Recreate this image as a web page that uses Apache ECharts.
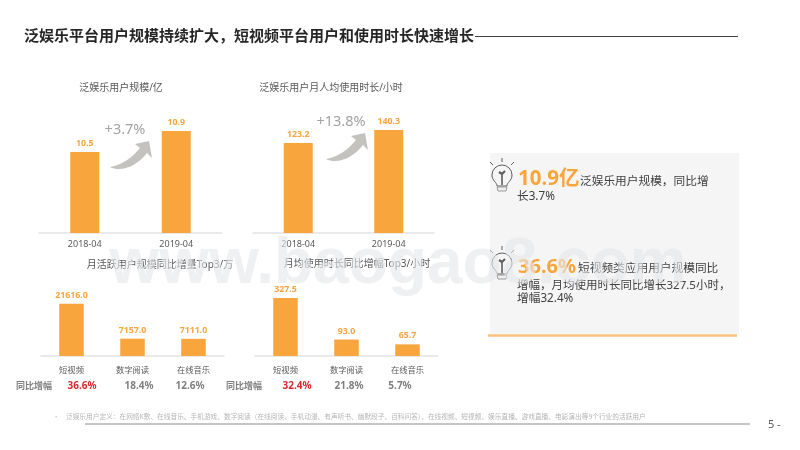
<!DOCTYPE html>
<html>
<head>
<meta charset="utf-8">
<style>
html, body { margin: 0; padding: 0; background: #fff; }
#container { width: 800px; height: 450px; }
</style>
<script src="https://cdn.jsdelivr.net/npm/echarts@6/dist/echarts.min.js"></script>
</head>
<body>
<div id="container"></div>
<script>
var months = ['2018-04', '2019-04'];
var apps = ['短视频', '数字阅读', '在线音乐'];
var userScale = [10.5, 10.9];
var userHours = [123.2, 140.3];
var mauGain = [21616.0, 7157.0, 7111.0];
var hourGain = [327.5, 93.0, 65.7];
var mauGrowth = ['36.6%', '18.4%', '12.6%'];
var hourGrowth = ['32.4%', '21.8%', '5.7%'];

var CJK = '"Noto Sans", "Noto Sans CJK SC", sans-serif';
var ORANGE = '#f9a53e';
var TEXT = '#595959';

// the graphic component has no plain path type, so register the two icon outlines
echarts.graphic.registerShape('growthArrow', echarts.graphic.extendPath(
  'M110 167C122 165 133 157 140 148L135 144L149 141L152 158L147 153C138 165 122 173 110 167Z', {}
));
echarts.graphic.registerShape('bulbGlass', echarts.graphic.extendPath(
  'M-5 9C-5 5 -10 4 -10 -2A10 10 0 1 1 10 -2C10 4 5 5 5 9Z', {}
));

var dom = document.getElementById('container');
var myChart = echarts.init(dom, null, { renderer: 'canvas' });

function label(x, y, text, size, color, weight, align) {
  return {
    type: 'text',
    x: x,
    y: y,
    z: 10,
    style: {
      text: text,
      font: (weight || 'normal') + ' ' + size + 'px ' + CJK,
      fill: color || TEXT,
      align: align || 'left',
      verticalAlign: 'middle'
    }
  };
}

function line(x1, y1, x2, y2, color, width) {
  return {
    type: 'line',
    z: 5,
    shape: { x1: x1, y1: y1, x2: x2, y2: y2 },
    style: { stroke: color, lineWidth: width }
  };
}

// curved growth arrow, drawn from the position of its tail
function arrow(dx, dy) {
  return {
    type: 'growthArrow',
    x: dx,
    y: dy,
    z: 5,
    shape: {},
    style: { fill: '#c3c2bf' }
  };
}

// light bulb icon next to the two headline numbers
function bulb(cx, cy) {
  var c = '#5f5f5f';
  return {
    type: 'group',
    children: [
      { type: 'bulbGlass', x: cx, y: cy, z: 6, shape: {}, style: { fill: 'none', stroke: c, lineWidth: 1 } },
      { type: 'polygon', z: 6, shape: { points: [[cx - 5, cy + 10], [cx + 5, cy + 10], [cx + 4, cy + 14], [cx - 4, cy + 14]] }, style: { fill: '#efefef', stroke: '#9a9a9a', lineWidth: 1 } },
      line(cx, cy + 8, cx, cy - 3, c, 1.6),
      line(cx, cy - 3, cx - 3, cy - 5, c, 2.2),
      line(cx, cy - 3, cx + 3, cy - 6, c, 2.2),
      line(cx, cy - 15, cx, cy - 19, c, 1),
      line(cx - 9, cy - 12, cx - 12, cy - 15, c, 1),
      line(cx + 9, cy - 12, cx + 12, cy - 15, c, 1)
    ]
  };
}

var grids = [
  { left: 39, width: 183, top: 120, height: 113 },
  { left: 253, width: 181, top: 120, height: 113 },
  { left: 41, width: 183, top: 290, height: 66 },
  { left: 255, width: 183, top: 290, height: 66 }
];
var yRanges = [[8.96, 11.11], [4.8, 153.5], [0, 27270], [0, 373]];
var barWidths = [29, 29, 24.5, 24.5];
var cats = [months, months, apps, apps];
var values = [userScale, userHours, mauGain, hourGain];

var xAxes = [], yAxes = [], series = [];
for (var i = 0; i < 4; i++) {
  xAxes.push({
    type: 'category',
    gridIndex: i,
    data: cats[i],
    axisTick: { show: false },
    axisLine: { lineStyle: { color: '#e4e4e4', width: 1.5 } },
    axisLabel: { color: TEXT, fontSize: i < 2 ? 9 : 8.3, fontFamily: CJK, margin: i < 2 ? 7 : 10, interval: 0 }
  });
  yAxes.push({
    type: 'value',
    gridIndex: i,
    min: yRanges[i][0],
    max: yRanges[i][1],
    show: false
  });
  series.push({
    type: 'bar',
    xAxisIndex: i,
    yAxisIndex: i,
    data: values[i],
    barWidth: barWidths[i],
    itemStyle: { color: ORANGE },
    label: {
      show: true,
      position: 'top',
      distance: 4,
      color: ORANGE,
      fontSize: 8.8,
      fontWeight: 'bold',
      fontFamily: CJK,
      formatter: function (p) { return p.value.toFixed(1); }
    }
  });
}

var graphics = [
  // slide heading
  label(24, 37, '泛娱乐平台用户规模持续扩大，短视频平台用户和使用时长快速增长', 15, '#262626', 'bold'),
  line(475, 36.5, 738, 36.5, '#404040', 1),

  // chart titles
  label(121, 88, '泛娱乐用户规模/亿', 10, TEXT, 'normal', 'center'),
  label(331, 88, '泛娱乐用户月人均使用时长/小时', 10, TEXT, 'normal', 'center'),
  label(160, 265, '月活跃用户规模同比增量Top3/万', 10, TEXT, 'normal', 'center'),
  label(357, 264, '月均使用时长同比增幅Top3/小时', 10, TEXT, 'normal', 'center'),

  // growth arrows
  arrow(0, 0),
  arrow(216, -8),
  label(125, 130, '+3.7%', 14.5, '#a3a3a3', 'normal', 'center'),
  label(341, 122, '+13.8%', 14.5, '#a3a3a3', 'normal', 'center'),

  // year on year rows
  label(34, 386, '同比增幅', 9, '#7f7f7f', 'bold', 'center'),
  label(82, 386, mauGrowth[0], 10, '#d92b2b', 'bold', 'center'),
  label(139, 386, mauGrowth[1], 10, '#7f7f7f', 'bold', 'center'),
  label(190, 386, mauGrowth[2], 10, '#7f7f7f', 'bold', 'center'),
  label(244, 386, '同比增幅', 9, '#7f7f7f', 'bold', 'center'),
  label(297, 386, hourGrowth[0], 10, '#d92b2b', 'bold', 'center'),
  label(349, 386, hourGrowth[1], 10, '#7f7f7f', 'bold', 'center'),
  label(400, 386, hourGrowth[2], 10, '#7f7f7f', 'bold', 'center'),

  // takeaway panel
  { type: 'rect', z: 1, shape: { x: 490, y: 153, width: 249, height: 181 }, style: { fill: '#f6f5f6' } },
  line(488, 335.5, 737, 335.5, '#f9c27f', 2.5),
  bulb(502, 177),
  bulb(502, 265),
  label(518, 179, '10.9亿', 20.5, ORANGE, 'bold'),
  label(580, 182, '泛娱乐用户规模，同比增', 11.7, '#404040'),
  label(517, 197, '长3.7%', 11.7, '#404040'),
  label(518, 267, '36.6%', 20, ORANGE, 'bold'),
  label(578, 269, '短视频类应用用户规模同比', 11.7, '#404040'),
  label(517, 286, '增幅，月均使用时长同比增长327.5小时，', 11.5, '#404040'),
  label(517, 299, '增幅32.4%', 11.7, '#404040'),

  // footnote and page number
  label(55, 417, '•', 6, '#bdbdbd'),
  label(66, 417, '泛娱乐用户定义：在网络K歌、在线音乐、手机游戏、数字阅读（在线阅读、手机动漫、有声听书、幽默段子、百科问答）、在线视频、短视频、娱乐直播、游戏直播、电影演出等9个行业的活跃用户', 6.7, '#b5b5b5'),
  line(85, 424, 750, 424, '#8c8c8c', 1.2),
  label(768, 425, '5', 11, TEXT),
  label(777, 425, '-', 11, TEXT),

  // watermark over everything
  {
    type: 'text',
    x: 398,
    y: 265,
    z: 50,
    style: {
      text: 'www.baogao8.com',
      font: 'bold 64px "Liberation Sans", Arial, sans-serif',
      fill: 'rgba(228,230,233,0.62)',
      align: 'center',
      verticalAlign: 'middle'
    }
  }
];

var option = {
  animation: false,
  backgroundColor: '#fff',
  grid: grids,
  xAxis: xAxes,
  yAxis: yAxes,
  series: series,
  graphic: { elements: graphics }
};

myChart.setOption(option);
</script>
</body>
</html>
